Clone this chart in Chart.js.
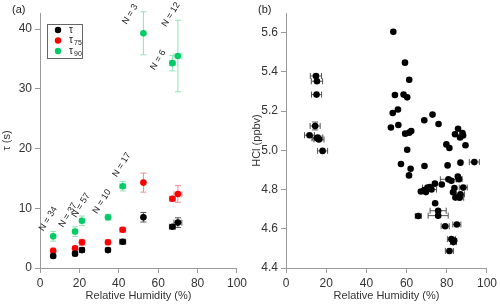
<!DOCTYPE html>
<html>
<head>
<meta charset="utf-8">
<script src="https://cdn.jsdelivr.net/npm/chart.js@4"></script>
<style>
  body { margin: 0; background: #fff; }
  .panel { position: absolute; top: 0; width: 250px; height: 305px; }
</style>
</head>
<body>
<div class="panel" style="left:0"><canvas id="chartA"></canvas></div>
<div class="panel" style="left:250px"><canvas id="chartB"></canvas></div>
<script>
// panel (a): time constants vs relative humidity
var rh = [6.7, 17.8, 21.3, 34.5, 42, 52.5, 67.2, 70];
var rhErr = [0.8, 1.0, 1.0, 1.0, 1.5, 0.5, 1.5, 2.0];
var tau = [2.0, 2.4, 3.0, 3.0, 4.4, 8.5, 6.9, 7.6];
var tauErr = [0.3, 0.3, 0.4, 0.3, 0.4, 0.8, 0.3, 0.8];
var tau75 = [2.9, 3.3, 4.3, 4.3, 6.4, 14.3, 11.6, 12.4];
var tau75Err = [0.4, 0.3, 0.5, 0.4, 0.4, 1.6, 0.4, 1.4];
var tau90 = [5.3, 6.1, 7.9, 8.5, 13.7, 39.3, 34.3, 35.5];
var tau90Err = [0.8, 0.8, 0.8, 0.5, 0.8, 3.6, 1.3, 6.0];
var nLabels = ['N = 34', 'N = 37', 'N = 57', 'N = 10', 'N = 17', 'N = 3', 'N = 6', 'N = 12'];
var tauTicks = [0, 10, 20, 30, 40];
var rhTicks = [0, 20, 40, 60, 80, 100];

// panel (b): HCl vs relative humidity
var hclRh = [14.9, 15.4, 15.2, 14.5, 11.7, 15.4, 16.4, 15.8, 18.2,
  53.4, 59.2, 61.3, 54.2, 58.5, 60.3, 55.7, 53.1, 55.9, 52.2,
  68.8, 72.9, 75.9, 59.3, 61.3, 62.3, 85.6, 84.1, 87.8, 88.1,
  86.6, 79.8, 81.3, 89.3, 60.3, 57.2, 62.0, 61.2, 68.9, 80.4,
  86.8, 93.7, 74.1, 77.5, 80.8, 82.3, 85.5, 86.1, 71.6, 70.4,
  68.8, 67.1, 69.6, 72.4, 83.8, 88.2, 83.1, 86.8, 84.3, 86.4,
  74.2, 75.7, 75.7, 65.8, 79.2, 85.0, 82.3, 83.3, 83.7, 81.3];
var hcl = [5.379, 5.352, 5.284, 5.124, 5.077, 5.061, 5.055, 5.065, 4.997,
  5.604, 5.447, 5.36, 5.282, 5.284, 5.27, 5.208, 5.19, 5.129, 5.116,
  5.153, 5.182, 5.134, 5.085, 5.09, 5.098, 5.11, 5.082, 5.088, 5.076,
  5.065, 5.03, 5.012, 5.026, 5.003, 4.93, 4.906, 4.872, 4.92, 4.923,
  4.937, 4.94, 4.83, 4.826, 4.852, 4.845, 4.866, 4.853, 4.813, 4.81,
  4.797, 4.79, 4.787, 4.80, 4.808, 4.81, 4.786, 4.776, 4.76, 4.758,
  4.73, 4.692, 4.667, 4.665, 4.613, 4.622, 4.547, 4.532, 4.54, 4.487];
var hclRhErr = [2.8, 2.8, 2.5, 2.5, 2.5, 2.5, 2.5, 2.5, 2.5,
  0, 0, 0, 0, 0, 0, 0, 0, 0, 0,
  0, 0, 0, 0, 0, 0, 0, 0, 0, 0,
  0, 0, 0, 0, 0, 0, 0, 0, 0, 0,
  0, 2.5, 0, 0, 4.0, 0, 0, 1.5, 0, 2.5,
  0, 0, 0, 2.5, 0, 2.0, 0, 2.0, 0, 2.0,
  0, 4.0, 5.0, 1.5, 2.0, 2.0, 2.0, 1.5, 0, 2.0];
var hclErr = [0, 0, 0, 0.02];
var hclTicks = [4.4, 4.6, 4.8, 5.0, 5.2, 5.4, 5.6];

var axisColor = '#9a9a9a';
var textColor = '#333';

var toPoints = function(xs, ys) {
	var pts = [];
	for (var i = 0; i < xs.length; i++) {
		pts.push({x: xs[i], y: ys[i]});
	}
	return pts;
};

var errorBars = {
	id: 'errorBars',
	beforeDatasetsDraw: function(chart) {
		var ctx = chart.ctx;
		var xs = chart.scales.x, ys = chart.scales.y;
		chart.data.datasets.forEach(function(ds) {
			ctx.save();
			ctx.strokeStyle = ds.errColor;
			ctx.lineWidth = 1;
			ds.data.forEach(function(p, i) {
				var px = xs.getPixelForValue(p.x), py = ys.getPixelForValue(p.y);
				var ex = ds.errX ? (ds.errX[i] || 0) : 0;
				var ey = ds.errY ? (ds.errY[i] || 0) : 0;
				ctx.beginPath();
				if (ex) {
					var x1 = xs.getPixelForValue(p.x - ex), x2 = xs.getPixelForValue(p.x + ex);
					ctx.moveTo(x1, py); ctx.lineTo(x2, py);
					ctx.moveTo(x1, py - 3); ctx.lineTo(x1, py + 3);
					ctx.moveTo(x2, py - 3); ctx.lineTo(x2, py + 3);
				}
				if (ey) {
					var y1 = ys.getPixelForValue(p.y - ey), y2 = ys.getPixelForValue(p.y + ey);
					ctx.moveTo(px, y1); ctx.lineTo(px, y2);
					ctx.moveTo(px - 3, y1); ctx.lineTo(px + 3, y1);
					ctx.moveTo(px - 3, y2); ctx.lineTo(px + 3, y2);
				}
				ctx.stroke();
			});
			ctx.restore();
		});
	}
};

var panelLabel = {
	id: 'panelLabel',
	afterDraw: function(chart, args, opts) {
		var ctx = chart.ctx;
		ctx.save();
		ctx.fillStyle = '#222';
		ctx.font = '11px "Liberation Sans", Arial, sans-serif';
		ctx.textBaseline = 'middle';
		ctx.fillText(opts.text, opts.x, opts.y);
		ctx.restore();
	}
};

// "N = .." annotations, anchored at the top of the tau90 error bar
var countLabels = {
	id: 'countLabels',
	afterDatasetsDraw: function(chart, args, opts) {
		if (!opts.labels) return;
		var ctx = chart.ctx;
		var xs = chart.scales.x, ys = chart.scales.y;
		ctx.save();
		ctx.fillStyle = '#222';
		ctx.font = '9px "Liberation Sans", Arial, sans-serif';
		ctx.textBaseline = 'alphabetic';
		ctx.textAlign = 'left';
		opts.labels.forEach(function(txt, i) {
			var px = xs.getPixelForValue(rh[i]) + opts.offsets[i][0];
			var py = ys.getPixelForValue(tau90[i] + tau90Err[i]) + opts.offsets[i][1];
			ctx.save();
			ctx.translate(px, py);
			ctx.rotate(-58 * Math.PI / 180);
			ctx.fillText(txt, 0, 0);
			ctx.restore();
		});
		ctx.restore();
	}
};

var boxLegend = {
	id: 'boxLegend',
	afterDraw: function(chart, args, opts) {
		if (!opts.show) return;
		var ctx = chart.ctx;
		var a = chart.chartArea;
		var x0 = a.left + 7, y0 = a.top + 11;
		ctx.save();
		ctx.strokeStyle = '#666';
		ctx.lineWidth = 1;
		ctx.strokeRect(x0 + 0.5, y0 + 0.5, 35, 34);
		chart.data.datasets.forEach(function(ds, i) {
			var cy = y0 + 6 + i * 10.5;
			ctx.fillStyle = ds.backgroundColor;
			ctx.beginPath();
			ctx.arc(x0 + 11, cy, 3.2, 0, Math.PI * 2);
			ctx.fill();
			ctx.fillStyle = '#222';
			ctx.textBaseline = 'middle';
			ctx.font = '10px "Liberation Sans", Arial, sans-serif';
			ctx.fillText(ds.label.charAt(0), x0 + 22, cy);
			if (ds.label.length > 1) {
				ctx.font = '7px "Liberation Sans", Arial, sans-serif';
				ctx.fillText(ds.label.slice(1), x0 + 27, cy + 3);
			}
		});
		ctx.restore();
	}
};

var makeAxis = function(min, max, ticks, title, isX, size) {
	return {
		type: 'linear',
		min: min,
		max: max,
		afterBuildTicks: function(axis) {
			axis.ticks = ticks.map(function(v) { return {value: v}; });
		},
		afterFit: function(axis) {
			if (isX) axis.height = size; else axis.width = size;
		},
		grid: {display: true, drawOnChartArea: false, drawTicks: true, tickLength: 5, color: axisColor},
		border: {display: true, color: axisColor, width: 1},
		ticks: {
			color: textColor,
			padding: 3,
			maxRotation: 0,
			font: {family: '"Liberation Sans", Arial, sans-serif', size: 12},
			callback: function(v) { return isX ? v : (max < 10 ? v.toFixed(1) : v); }
		},
		title: {
			display: true,
			text: title,
			color: textColor,
			padding: {top: 0, bottom: 2},
			font: {family: '"Liberation Sans", Arial, sans-serif', size: 11}
		}
	};
};

Chart.register(errorBars, panelLabel, countLabels, boxLegend);

new Chart(document.getElementById('chartA'), {
	type: 'scatter',
	data: {
		datasets: [{
			label: 'τ',
			data: toPoints(rh, tau),
			errX: rhErr, errY: tauErr,
			errColor: '#555',
			backgroundColor: '#000'
		}, {
			label: 'τ75',
			data: toPoints(rh, tau75),
			errX: rhErr, errY: tau75Err,
			errColor: '#f08c8c',
			backgroundColor: '#ff0000'
		}, {
			label: 'τ90',
			data: toPoints(rh, tau90),
			errX: rhErr, errY: tau90Err,
			errColor: '#8fe3b4',
			backgroundColor: '#00cc66'
		}]
	},
	options: {
		responsive: true,
		maintainAspectRatio: false,
		animation: false,
		layout: {padding: {top: 13, right: 10, left: 0, bottom: 0}},
		elements: {point: {radius: 3.3, borderWidth: 0, hoverRadius: 3.3}},
		scales: {
			x: makeAxis(0, 100, rhTicks, 'Relative Humidity (%)', true, 37),
			y: makeAxis(0, 42.7, tauTicks, 'τ (s)', false, 40)
		},
		plugins: {
			legend: {display: false},
			tooltip: {enabled: false},
			panelLabel: {text: '(a)', x: 12, y: 10},
			boxLegend: {show: true},
			countLabels: {
				labels: nLabels,
				offsets: [[-10, 0], [-12, 1], [-6, 2], [-11, 0], [-6, -4], [-17, 13], [-18, 15], [-12, 7]]
			}
		}
	}
});

new Chart(document.getElementById('chartB'), {
	type: 'scatter',
	data: {
		datasets: [{
			label: 'HCl',
			data: toPoints(hclRh, hcl),
			errX: hclRhErr, errY: hclErr,
			errColor: '#555',
			backgroundColor: '#000'
		}]
	},
	options: {
		responsive: true,
		maintainAspectRatio: false,
		animation: false,
		layout: {padding: {top: 13, right: 13, left: 0, bottom: 0}},
		elements: {point: {radius: 3.3, borderWidth: 0, hoverRadius: 3.3}},
		scales: {
			x: makeAxis(0, 100, rhTicks, 'Relative Humidity (%)', true, 37),
			y: makeAxis(4.4, 5.7, hclTicks, 'HCl (ppbv)', false, 36)
		},
		plugins: {
			legend: {display: false},
			tooltip: {enabled: false},
			panelLabel: {text: '(b)', x: 8, y: 10}
		}
	}
});
</script>
</body>
</html>
